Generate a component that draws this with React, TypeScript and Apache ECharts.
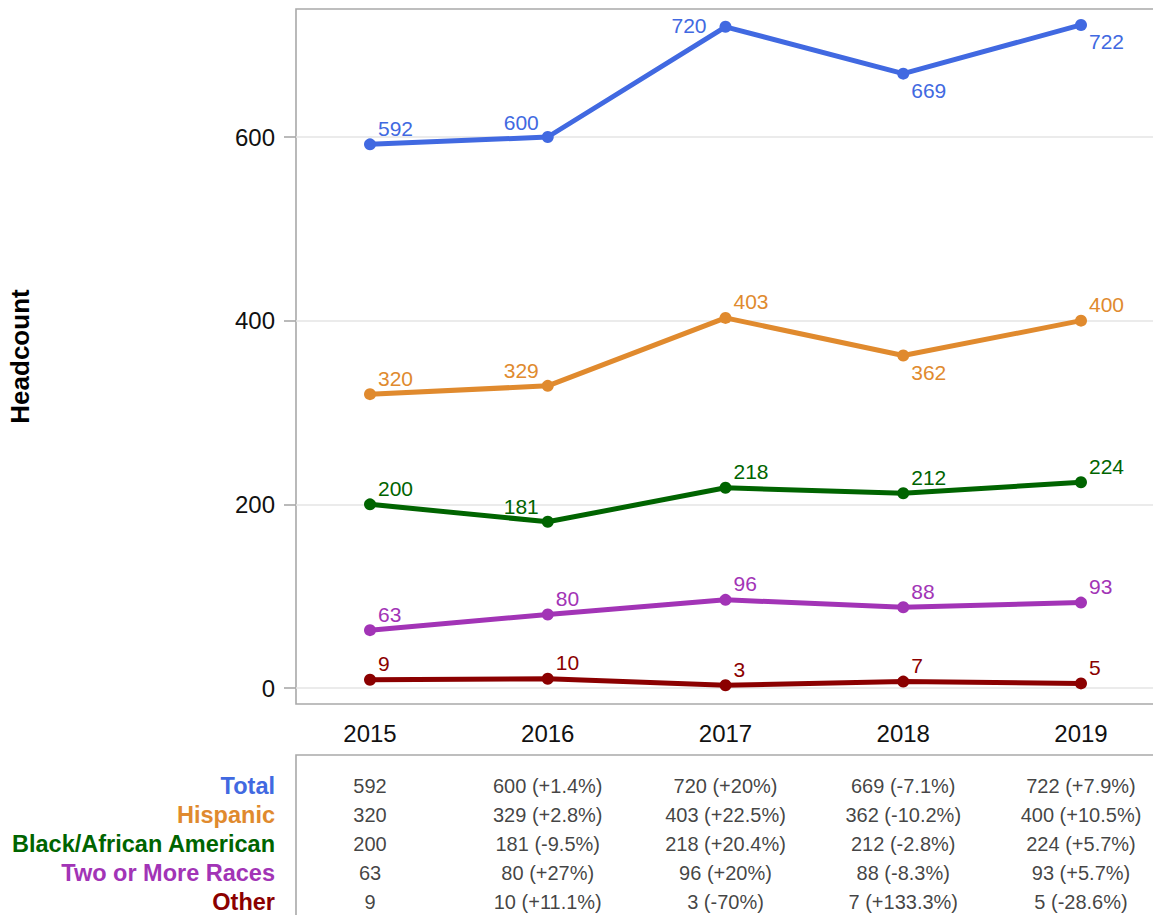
import React, { useEffect, useRef } from "react";
import * as echarts from "echarts";

const years = [2015, 2016, 2017, 2018, 2019];
const groups = ["Total", "Hispanic", "Black/African American", "Two or More Races", "Other"];
const colors = ["#4169E1", "#E08A2E", "#006400", "#A234B6", "#8B0000"];
const total = [592, 600, 720, 669, 722];
const hispanic = [320, 329, 403, 362, 400];
const black = [200, 181, 218, 212, 224];
const twoOrMore = [63, 80, 96, 88, 93];
const other = [9, 10, 3, 7, 5];
const yTicks = [0, 200, 400, 600];
const rowIndex = [0, 1, 2, 3, 4];
// label placement per point: ur = upper right, ul = upper left, lr = lower right, l = left
const labelPlacement = [
  ["ur", "ul", "l", "lr", "lr"],
  ["ur", "ul", "ur", "lr", "ur"],
  ["ur", "ul", "ur", "ur", "ur"],
  ["ur", "ur", "ur", "ur", "ur"],
  ["ur", "ur", "ur", "ur", "ur"],
];

const seriesValues = [total, hispanic, black, twoOrMore, other];

const FONT = "Liberation Sans, Arial, Helvetica, sans-serif";
const BORDER = "#A9A9A9";

function pct(cur: number, prev: number): string {
  const p = Math.round(((cur - prev) / prev) * 1000) / 10;
  return (p > 0 ? "+" : "") + p + "%";
}

function placement(kind: string) {
  switch (kind) {
    case "ul":
      return { align: "right", offset: [-9, -15] };
    case "lr":
      return { align: "left", offset: [8, 17] };
    case "l":
      return { align: "right", offset: [-19, -1] };
    default:
      return { align: "left", offset: [8, -16] };
  }
}

// pixel geometry helpers (axis ranges)
const GRID_LEFT = 296;
const GRID_WIDTH = 861;
const X_PX_PER_YEAR = 177.75;
const X_MIN = 2015 - (370 - GRID_LEFT) / X_PX_PER_YEAR;
const X_MAX = X_MIN + GRID_WIDTH / X_PX_PER_YEAR;

const PLOT_TOP = 9;
const PLOT_HEIGHT = 695;
const Y_PX_PER_UNIT = 551 / 600;
const Y_MIN = -(PLOT_TOP + PLOT_HEIGHT - 688) / Y_PX_PER_UNIT;
const Y_MAX = Y_MIN + PLOT_HEIGHT / Y_PX_PER_UNIT;

const TABLE_TOP = 755;
const TABLE_HEIGHT = 200;
const ROW_PX = 29.2;
const ROW_MIN = -(785.5 - TABLE_TOP) / ROW_PX;
const ROW_MAX = ROW_MIN + TABLE_HEIGHT / ROW_PX;

export default function App() {
  const ref = useRef<HTMLDivElement>(null);
  useEffect(() => {
    if (!ref.current) return;
    const chart = echarts.init(ref.current, undefined, { renderer: "svg" });

    const lineSeries = seriesValues.map((vals, si) => ({
      type: "line",
      name: groups[si],
      xAxisIndex: 0,
      yAxisIndex: 0,
      silent: true,
      symbol: "circle",
      symbolSize: 12,
      color: colors[si],
      lineStyle: { width: 5, color: colors[si] },
      itemStyle: { color: colors[si] },
      label: {
        show: true,
        position: "inside",
        verticalAlign: "middle",
        color: colors[si],
        fontSize: 21,
        fontFamily: FONT,
      },
      data: years.map((y, i) => ({
        value: [y, vals[i]],
        label: { ...placement(labelPlacement[si][i]) },
      })),
      z: 10 - si,
    }));

    const cellData: any[] = [];
    seriesValues.forEach((vals, si) => {
      years.forEach((y, i) => {
        const text = i === 0 ? String(vals[i]) : `${vals[i]} (${pct(vals[i], vals[i - 1])})`;
        cellData.push({ value: [y, rowIndex[si]], text });
      });
    });

    const rich: any = {};
    groups.forEach((g, i) => {
      rich["r" + i] = {
        color: colors[i],
        fontWeight: "bold",
        fontSize: 23.5,
        lineHeight: 20,
        fontFamily: FONT,
      };
    });

    chart.setOption({
      animation: false,
      backgroundColor: "#ffffff",
      grid: [
        {
          left: GRID_LEFT,
          top: PLOT_TOP,
          width: GRID_WIDTH,
          height: PLOT_HEIGHT,
          outerBoundsMode: "none",
          show: true,
          borderColor: BORDER,
          borderWidth: 1.6,
          backgroundColor: "transparent",
        },
        {
          left: GRID_LEFT,
          top: TABLE_TOP,
          width: GRID_WIDTH,
          height: TABLE_HEIGHT,
          outerBoundsMode: "none",
          show: true,
          borderColor: BORDER,
          borderWidth: 1.6,
          backgroundColor: "transparent",
        },
      ],
      xAxis: [
        {
          type: "value",
          gridIndex: 0,
          min: X_MIN,
          max: X_MAX,
          axisLine: { show: false },
          axisTick: { show: false },
          splitLine: { show: false },
          axisLabel: {
            customValues: years,
            color: "#111",
            fontSize: 24,
            fontFamily: FONT,
            margin: 17,
            formatter: (v: number) => String(Math.round(v)),
          },
        },
        {
          type: "value",
          gridIndex: 1,
          min: X_MIN,
          max: X_MAX,
          show: false,
          splitLine: { show: false },
        },
      ],
      yAxis: [
        {
          type: "value",
          gridIndex: 0,
          min: Y_MIN,
          max: Y_MAX,
          name: "Headcount",
          nameLocation: "middle",
          nameGap: 263,
          nameRotate: 90,
          nameTextStyle: {
            color: "#000",
            fontWeight: "bold",
            fontSize: 26,
            fontFamily: FONT,
          },
          axisLine: { show: false },
          axisTick: {
            show: true,
            customValues: yTicks,
            length: 12,
            lineStyle: { color: BORDER, width: 1.6 },
          },
          splitLine: {
            show: true,
            lineStyle: { color: "#E5E5E5", width: 1.5 },
          },
          axisLabel: {
            customValues: yTicks,
            color: "#111",
            fontSize: 24,
            fontFamily: FONT,
            margin: 21,
          },
        },
        {
          type: "value",
          gridIndex: 1,
          inverse: true,
          min: ROW_MIN,
          max: ROW_MAX,
          axisLine: { show: false },
          axisTick: { show: false },
          splitLine: { show: false },
          axisLabel: {
            customValues: rowIndex,
            margin: 21,
            formatter: (v: number) => `{r${Math.round(v)}|${groups[Math.round(v)]}}`,
            rich,
          },
        },
      ],
      series: [
        ...lineSeries,
        {
          type: "scatter",
          xAxisIndex: 1,
          yAxisIndex: 1,
          silent: true,
          symbolSize: 2,
          itemStyle: { color: "rgba(0,0,0,0)" },
          label: {
            show: true,
            position: "inside",
            color: "#111",
            fontSize: 20,
            lineHeight: 20,
            fontFamily: FONT,
            formatter: (p: any) => p.data.text,
          },
          data: cellData,
        },
      ],
    });
    return () => chart.dispose();
  }, []);

  return (
    <div
      ref={ref}
      style={{ position: "absolute", left: 0, top: 0, width: 1153, height: 915, background: "#fff" }}
    />
  );
}
